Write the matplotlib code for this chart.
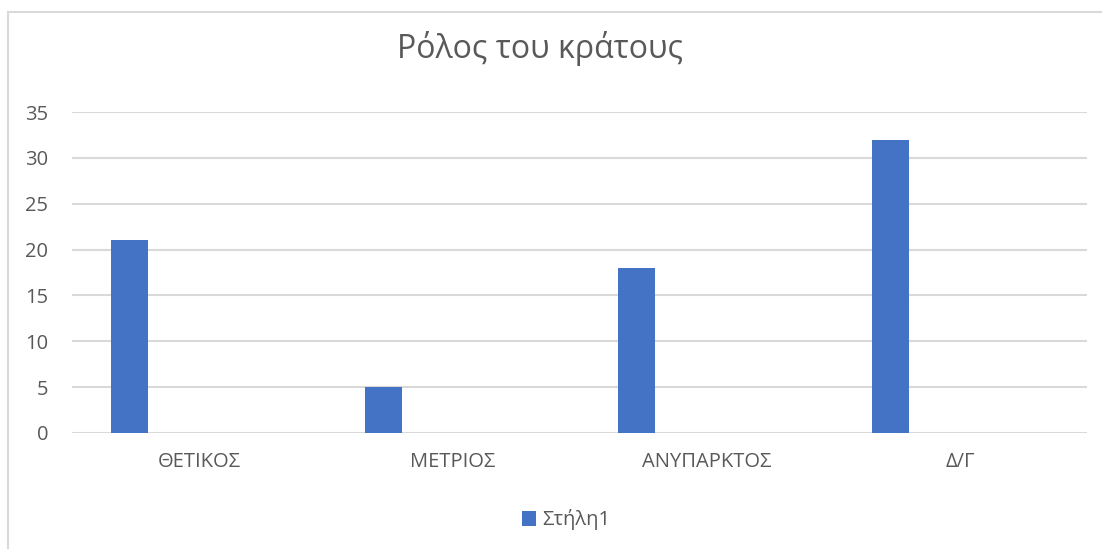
import matplotlib
matplotlib.use('Agg')
import matplotlib.pyplot as plt
from matplotlib.patches import Rectangle
import numpy as np

# Data
categories = ['ΘΕΤΙΚΟΣ', 'ΜΕΤΡΙΟΣ', 'ΑΝΥΠΑΡΚΤΟΣ', 'Δ/Γ']
values = [21, 5, 18, 32]
series_name = 'Στήλη1'
title = 'Ρόλος του κράτους'
yticks = [0, 5, 10, 15, 20, 25, 30, 35]

plt.rcParams['font.family'] = ['Open Sans', 'DejaVu Sans']

bar_color = '#4472c4'
grid_color = '#d9d9d9'
text_color = '#595959'

fig = plt.figure(figsize=(11.02, 5.49), dpi=100)
W, H = 1102, 549

# outer chart frame (Excel chart area border)
fig.patches.append(Rectangle((8 / W, -0.1), 1.2, (549 - 12) / H + 0.1,
                             transform=fig.transFigure, fill=False,
                             edgecolor=grid_color, linewidth=1.5))

ax = fig.add_axes([72 / W, (549 - 433) / H, (1087 - 72) / W, (433 - 112) / H])

x = np.arange(len(categories))
# bars sit left of the category centre (empty second series in the source)
bars = ax.bar(x - 0.274, values, width=0.146, color=bar_color,
              label=series_name, zorder=3)

ax.set_xlim(-0.5, len(categories) - 0.5)
ax.set_ylim(0, 35)
ax.set_yticks(yticks)
ax.set_xticks(x)
ax.set_xticklabels(categories)
ax.grid(axis='y', color=grid_color, linewidth=1.5)
ax.set_axisbelow(True)
for s in ax.spines.values():
    s.set_visible(False)
ax.tick_params(length=0, colors=text_color, labelsize=14.5)
ax.tick_params(axis='y', pad=17)
ax.tick_params(axis='x', pad=14)

fig.text(540 / W, 1 - 48 / H, title, ha='center', va='center',
         fontsize=23, color=text_color)

fig.legend(handles=[bars], labels=[series_name], loc='center',
           bbox_to_anchor=(566 / W, 1 - 520 / H), frameon=False,
           fontsize=14.5, labelcolor=text_color, handlelength=0.7,
           handleheight=0.7, handletextpad=0.3)

fig.savefig('out.png', dpi=100)
